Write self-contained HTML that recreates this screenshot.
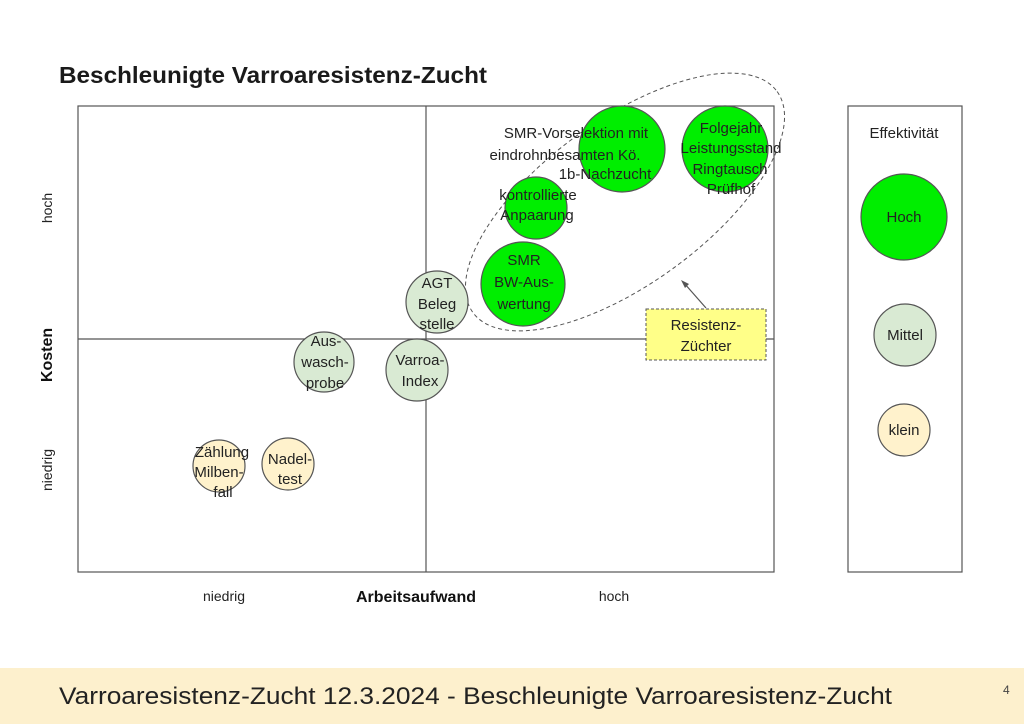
<!DOCTYPE html>
<html><head><meta charset="utf-8"><style>
html,body{margin:0;padding:0;background:#fff}
svg{display:block;font-family:"Liberation Sans",Arial,sans-serif}
</style></head><body>
<svg width="1024" height="724" viewBox="0 0 1024 724" xmlns="http://www.w3.org/2000/svg">
<rect width="1024" height="724" fill="#fff"/>
<text x="59" y="83" font-size="23.5" font-weight="bold" fill="#1a1a1a" textLength="428" lengthAdjust="spacingAndGlyphs">Beschleunigte Varroaresistenz-Zucht</text>
<rect x="78" y="106" width="696" height="466" fill="none" stroke="#555" stroke-width="1.2"/>
<line x1="426" y1="106" x2="426" y2="572" stroke="#555" stroke-width="1.2"/>
<line x1="78" y1="339" x2="774" y2="339" stroke="#555" stroke-width="1.2"/>
<ellipse cx="625" cy="202" rx="188" ry="82" transform="rotate(-36 625 202)" fill="none" stroke="#555" stroke-dasharray="4,3" stroke-width="1"/>
<g stroke="#555" stroke-width="1.2">
<circle cx="622" cy="149" r="43" fill="#00ee00"/>
<circle cx="725" cy="149" r="43" fill="#00ee00"/>
<circle cx="536" cy="208" r="31" fill="#00ee00"/>
<circle cx="523" cy="284" r="42" fill="#00ee00"/>
<circle cx="437" cy="302" r="31" fill="#d9ead3"/>
<circle cx="324" cy="362" r="30" fill="#d9ead3"/>
<circle cx="417" cy="370" r="31" fill="#d9ead3"/>
<circle cx="219" cy="466" r="26" fill="#fff2cc"/>
<circle cx="288" cy="464" r="26" fill="#fff2cc"/>
</g>
<g font-size="15" fill="#222" text-anchor="middle">
<text x="576" y="138">SMR-Vorselektion mit</text>
<text x="565" y="160">eindrohnbesamten Kö.</text>
<text x="605" y="179">1b-Nachzucht</text>
<text x="731" y="133">Folgejahr</text>
<text x="731" y="153">Leistungsstand</text>
<text x="730" y="174">Ringtausch</text>
<text x="731" y="194">Prüfhof</text>
<text x="538" y="200">kontrollierte</text>
<text x="537" y="220">Anpaarung</text>
<text x="524" y="265">SMR</text>
<text x="524" y="287">BW-Aus-</text>
<text x="524" y="309">wertung</text>
<text x="437" y="288">AGT</text>
<text x="437" y="309">Beleg</text>
<text x="437" y="329">stelle</text>
<text x="326" y="346">Aus-</text>
<text x="325" y="367">wasch-</text>
<text x="325" y="388">probe</text>
<text x="420" y="365">Varroa-</text>
<text x="420" y="386">Index</text>
<text x="222" y="457">Zählung</text>
<text x="219" y="477">Milben-</text>
<text x="223" y="497">fall</text>
<text x="290" y="464">Nadel-</text>
<text x="290" y="484">test</text>
</g>
<rect x="646" y="309" width="120" height="51" fill="#ffff88" stroke="#555" stroke-dasharray="3,2"/>
<g font-size="15" fill="#222" text-anchor="middle">
<text x="706" y="330">Resistenz-</text>
<text x="706" y="351">Züchter</text>
</g>
<line x1="706" y1="308" x2="684" y2="283" stroke="#555" stroke-width="1.2"/>
<polygon points="681,280 689,284 685,288" fill="#555"/>
<text transform="translate(52,208) rotate(-90)" font-size="14" fill="#222" text-anchor="middle">hoch</text>
<text transform="translate(52,470) rotate(-90)" font-size="14" fill="#222" text-anchor="middle">niedrig</text>
<text transform="translate(52,355) rotate(-90)" font-size="16" font-weight="bold" fill="#111" text-anchor="middle">Kosten</text>
<text x="224" y="601" font-size="14" fill="#222" text-anchor="middle">niedrig</text>
<text x="614" y="601" font-size="14" fill="#222" text-anchor="middle">hoch</text>
<text x="416" y="602" font-size="16" font-weight="bold" fill="#111" text-anchor="middle">Arbeitsaufwand</text>
<rect x="848" y="106" width="114" height="466" fill="none" stroke="#555" stroke-width="1.2"/>
<text x="904" y="138" font-size="15" fill="#222" text-anchor="middle">Effektivität</text>
<g stroke="#555" stroke-width="1.2">
<circle cx="904" cy="217" r="43" fill="#00ee00"/>
<circle cx="905" cy="335" r="31" fill="#d9ead3"/>
<circle cx="904" cy="430" r="26" fill="#fff2cc"/>
</g>
<g font-size="15" fill="#222" text-anchor="middle">
<text x="904" y="222">Hoch</text>
<text x="905" y="340">Mittel</text>
<text x="904" y="435">klein</text>
</g>
<rect x="0" y="668" width="1024" height="56" fill="#fdf0cd"/>
<text x="59" y="704" font-size="24" fill="#222" textLength="833" lengthAdjust="spacingAndGlyphs">Varroaresistenz-Zucht 12.3.2024 - Beschleunigte Varroaresistenz-Zucht</text>
<text x="1003" y="694" font-size="12" fill="#444">4</text>
</svg>
</body></html>
